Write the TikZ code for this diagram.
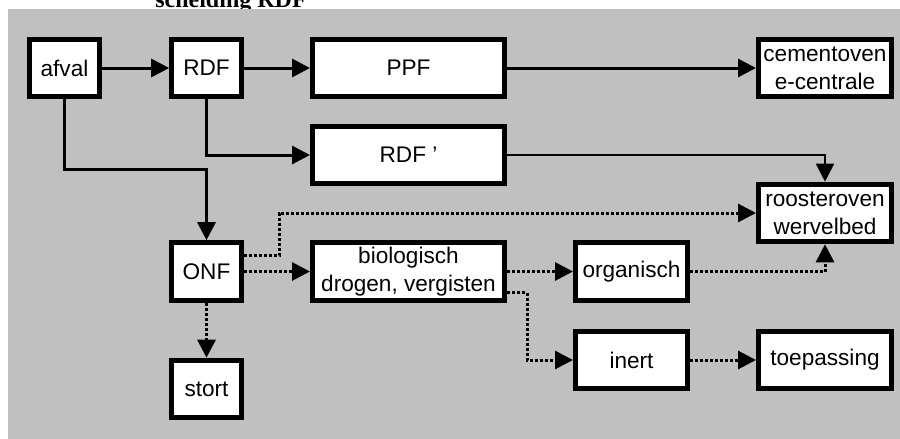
\documentclass[tikz,border=0pt]{standalone}
\usepackage{fontspec}
\setmainfont{Liberation Sans}
\newfontfamily\titelfont{Liberation Serif}
\usepackage{tikz}
\usetikzlibrary{arrows.meta,calc}
\definecolor{achtergrond}{RGB}{192,192,192}
\tikzstyle{blok} = [draw, line width=2.5pt, fill=white, inner sep=1pt, align=center,
  minimum height=28.8pt, font=\fontsize{11.3}{14}\selectfont]
\tikzstyle{smal} = [minimum width=34.8pt]
\tikzstyle{midden} = [minimum width=56pt]
\tikzstyle{rechts} = [minimum width=66.5pt]
\tikzstyle{breed} = [minimum width=96pt]
\tikzstyle{arrow} = [draw, line width=1.5pt, -{Triangle[length=9pt,width=9pt]}]
\tikzstyle{line} = [draw, line width=1.5pt]
\tikzstyle{dotarrow} = [arrow, dash pattern=on 1.5pt off 1pt]

\begin{document}
\begin{tikzpicture}[x=0.5pt, y=-0.5pt]
      \useasboundingbox (0,0) rectangle (900,439);
      \node[font=\titelfont\bfseries\fontsize{12}{14}\selectfont, anchor=base] (titel) at (231,8) {scheiding RDF};
      \fill[achtergrond] (8,9) rectangle (900,439);

      % blokken
      \node[blok, smal] (afval) at (64.5,68) {afval};
      \node[blok, smal] (rdf) at (206.5,68) {RDF};
      \node[blok, breed] (ppf) at (408.5,68) {PPF};
      \node[blok, rechts] (cement) at (825,68) {cementoven\\e-centrale};
      \node[blok, breed] (rdfacc) at (408.5,155) {RDF '};
      \node[blok, rechts] (rooster) at (825,213) {roosteroven\\wervelbed};
      \node[blok, smal] (onf) at (206.5,271.5) {ONF};
      \node[blok, breed] (bio) at (408.5,271.5) {biologisch\\drogen, vergisten};
      \node[blok, midden] (organisch) at (631.5,271.5) {organisch};
      \node[blok, smal] (stort) at (206.5,389) {stort};
      \node[blok, midden] (inert) at (631.5,360) {inert};
      \node[blok, rechts] (toepassing) at (825,360) {toepassing};

      % hulppunten
      \coordinate (k1) at (64.5,169);
      \coordinate (k2) at (279,213);
      \coordinate (k3) at (527,360);
      \coordinate (onfboven) at ([yshift=8pt]onf.east);
      \coordinate (bioonder) at ([yshift=-10.5pt]bio.east);

      % verbindingen
      \draw[arrow] (afval) -- (rdf);
      \draw[arrow] (rdf) -- (ppf);
      \draw[arrow] (ppf) -- (cement);
      \draw[arrow] (afval.south) -- (k1) -| (onf.north);
      \draw[arrow] (rdf.south) |- (rdfacc.west);
      \draw[arrow, line width=1pt] (rdfacc.east) -| (rooster.north);
      \draw[dotarrow] (onfboven) -| (k2) -- (rooster.west);
      \draw[dotarrow] (onf) -- (bio);
      \draw[dotarrow] (onf) -- (stort);
      \draw[dotarrow] (bio) -- (organisch);
      \draw[dotarrow] (bioonder) -| (k3) -- (inert.west);
      \draw[dotarrow] (organisch.east) -| (rooster.south);
      \draw[dotarrow] (inert) -- (toepassing);
\end{tikzpicture}
\end{document}
